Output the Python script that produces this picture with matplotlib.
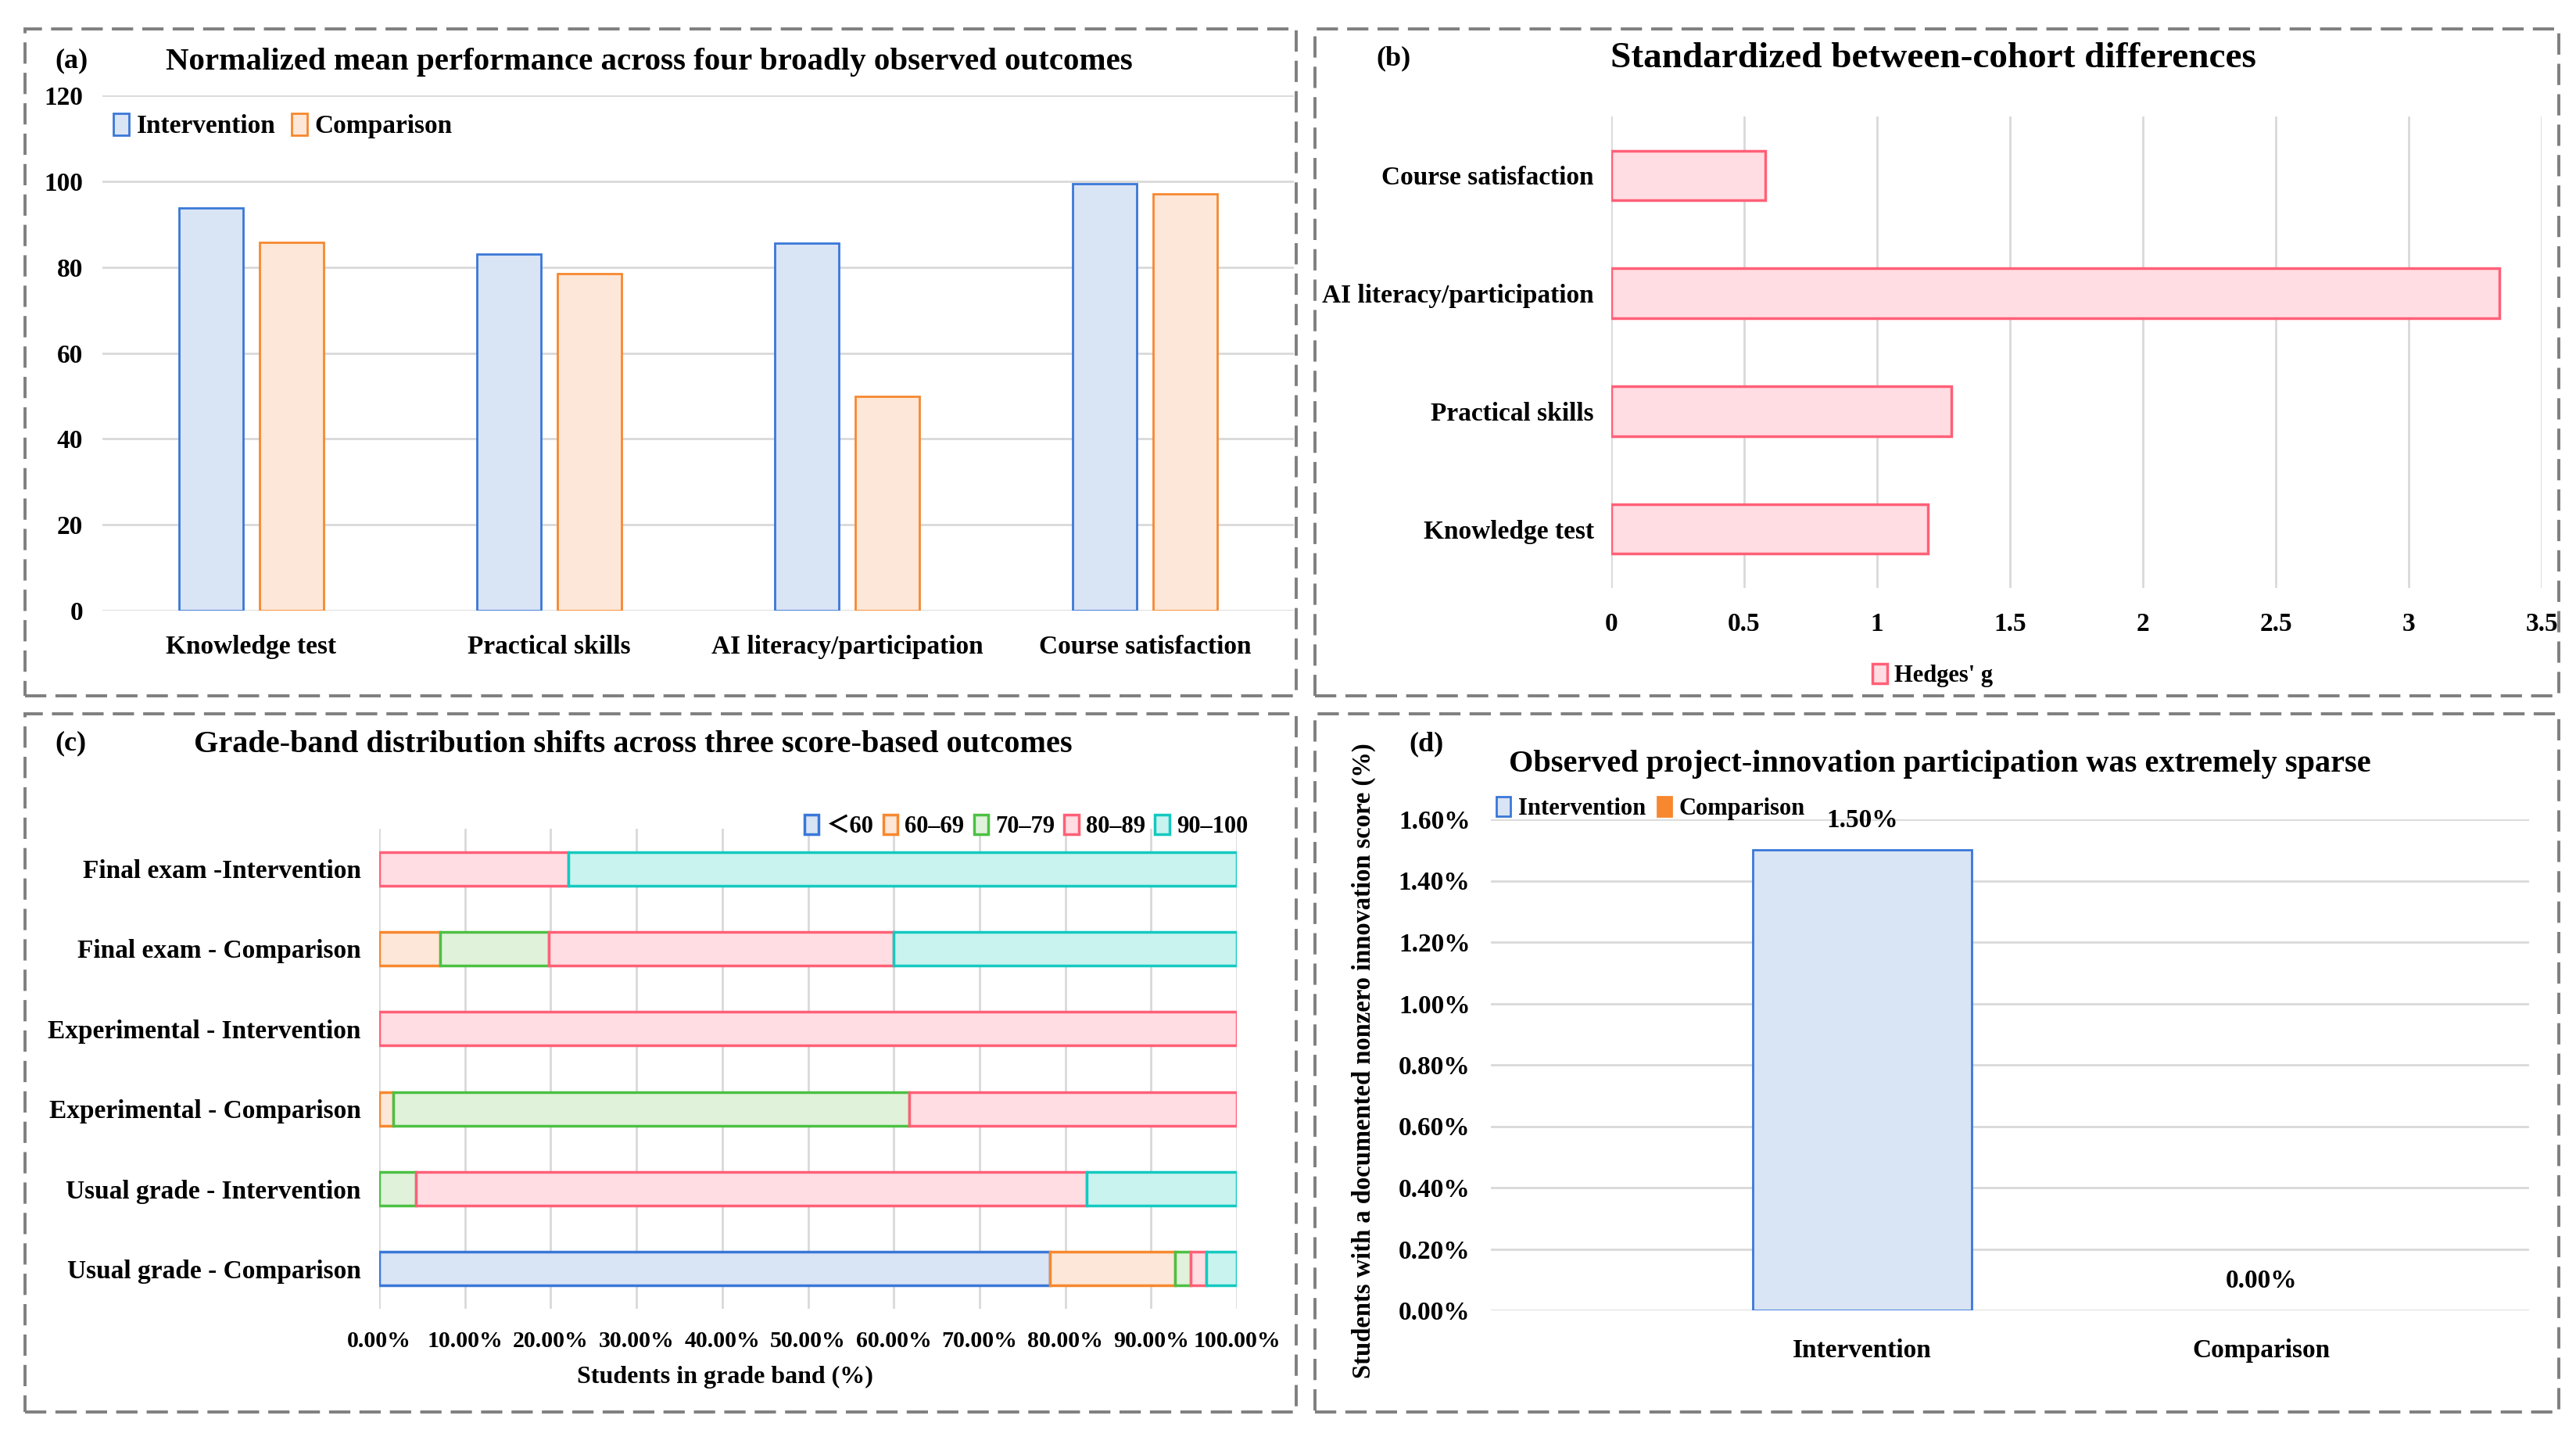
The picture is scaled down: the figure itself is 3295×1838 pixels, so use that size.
import matplotlib
matplotlib.use("Agg")
import matplotlib.pyplot as plt
from matplotlib.patches import Patch, Rectangle
from matplotlib.ticker import FuncFormatter, MultipleLocator
import numpy as np

# ---------------- data ----------------
a_categories = ["Knowledge test", "Practical skills", "AI literacy/participation", "Course satisfaction"]
a_intervention = [93.7, 83.0, 85.5, 99.4]
a_comparison = [85.7, 78.4, 49.9, 97.0]

b_categories = ["Knowledge test", "Practical skills", "AI literacy/participation", "Course satisfaction"]
b_hedges_g = [1.19, 1.28, 3.34, 0.58]

c_categories = ["Final exam -Intervention", "Final exam - Comparison", "Experimental - Intervention",
                "Experimental - Comparison", "Usual grade - Intervention", "Usual grade - Comparison"]
c_bands = ["＜60", "60–69", "70–79", "80–89", "90–100"]
c_lt60 = [0.0, 0.0, 0.0, 0.0, 0.0, 78.2]
c_60_69 = [0.0, 7.1, 0.0, 1.6, 0.0, 14.6]
c_70_79 = [0.0, 12.7, 0.0, 60.2, 4.3, 1.8]
c_80_89 = [22.1, 40.2, 100.0, 38.2, 78.2, 1.8]
c_90_100 = [77.9, 40.0, 0.0, 0.0, 17.5, 3.6]

d_groups = ["Intervention", "Comparison"]
d_values = [1.50, 0.00]

# ---------------- style ----------------
SERIF = ["Liberation Serif", "DejaVu Serif"]
plt.rcParams["font.family"] = SERIF
plt.rcParams["font.weight"] = "bold"

BLUE_E, BLUE_F = "#3A78D8", "#D9E4F5"
ORNG_E, ORNG_F = "#F7882F", "#FDE7D8"
GRN_E, GRN_F = "#4CC043", "#E0F2DA"
PINK_E, PINK_F = "#FF6077", "#FFDDE3"
TEAL_E, TEAL_F = "#14C9C0", "#C8F3EF"
GRID = "#D9D9D9"

W, H = 3295, 1838
fig = plt.figure(figsize=(W / 100, H / 100), dpi=100)


def fx(px):
    return px / W


def fy(py):
    return 1 - py / H


def rect(l, t, r, b):
    return [fx(l), fy(b), fx(r) - fx(l), fy(t) - fy(b)]


def panel_border(l, t, r, b):
    fig.patches.append(Rectangle((fx(l), fy(b)), fx(r) - fx(l), fy(t) - fy(b),
                                 transform=fig.transFigure, fill=False,
                                 edgecolor="#7F7F7F", linewidth=2.8,
                                 linestyle=(0, (7, 3))))


def clean(ax):
    for s in ax.spines.values():
        s.set_visible(False)
    ax.tick_params(length=0)


panel_border(32, 37, 1658, 890)
panel_border(1682, 37, 3273, 890)
panel_border(32, 913, 1658, 1806)
panel_border(1682, 913, 3273, 1806)

TICK = 24
PANEL = 26

# ---------------- (a) ----------------
axa = fig.add_axes(rect(131, 122, 1655, 781))
x = np.arange(len(a_categories))
bw = 0.213
off = 0.135
axa.bar(x - off, a_intervention, bw, facecolor=BLUE_F, edgecolor=BLUE_E, linewidth=2, zorder=3)
axa.bar(x + off, a_comparison, bw, facecolor=ORNG_F, edgecolor=ORNG_E, linewidth=2, zorder=3)
axa.set_xlim(-0.5, 3.5)
axa.set_ylim(0, 120)
axa.yaxis.set_major_locator(MultipleLocator(20))
axa.grid(axis="y", color=GRID, linewidth=2, zorder=0)
axa.set_axisbelow(True)
clean(axa)
axa.set_xticks(x)
axa.set_xticklabels(a_categories, fontsize=TICK, fontweight="bold")
axa.tick_params(axis="x", pad=22)
axa.tick_params(axis="y", pad=18, labelsize=TICK)
for t in axa.get_yticklabels():
    t.set_fontweight("bold")
fig.text(fx(70), fy(78), "(a)", fontsize=PANEL, fontweight="bold", ha="left", va="center")
fig.text(fx(830), fy(80), "Normalized mean performance across four broadly observed outcomes",
         fontsize=29.5, fontweight="bold", ha="center", va="center")
fig.legend(handles=[Patch(facecolor=BLUE_F, edgecolor=BLUE_E, linewidth=2, label="Intervention"),
                    Patch(facecolor=ORNG_F, edgecolor=ORNG_E, linewidth=2, label="Comparison")],
           loc="center left", bbox_to_anchor=(fx(145), fy(161)), bbox_transform=fig.transFigure,
           ncol=2, frameon=False, handlelength=0.6, handleheight=0.9,
           handletextpad=0.3, columnspacing=0.6, borderpad=0, borderaxespad=0,
           prop={"weight": "bold", "size": TICK})

# ---------------- (b) ----------------
axb = fig.add_axes(rect(2061, 149, 3251, 752))
y = np.arange(len(b_categories))
axb.barh(y, b_hedges_g, 0.42, facecolor=PINK_F, edgecolor=PINK_E, linewidth=2.5, zorder=3)
axb.set_xlim(0, 3.5)
axb.set_ylim(-0.5, 3.5)
axb.xaxis.set_major_locator(MultipleLocator(0.5))
axb.xaxis.set_major_formatter(FuncFormatter(lambda v, p: f"{v:g}"))
axb.grid(axis="x", color=GRID, linewidth=2, zorder=0)
axb.set_axisbelow(True)
clean(axb)
axb.set_yticks(y)
axb.set_yticklabels(b_categories, fontsize=TICK, fontweight="bold")
axb.tick_params(axis="y", pad=16)
axb.tick_params(axis="x", pad=22, labelsize=TICK)
for t in axb.get_xticklabels():
    t.set_fontweight("bold")
fig.text(fx(1760), fy(75), "(b)", fontsize=PANEL, fontweight="bold", ha="left", va="center")
fig.text(fx(2473), fy(75), "Standardized between-cohort differences",
         fontsize=34, fontweight="bold", ha="center", va="center")
fig.legend(handles=[Patch(facecolor=PINK_F, edgecolor=PINK_E, linewidth=2.5, label="Hedges' g")],
           loc="center", bbox_to_anchor=(fx(2472), fy(864)), bbox_transform=fig.transFigure,
           frameon=False, handlelength=0.6, handleheight=0.9, handletextpad=0.3,
           borderpad=0, borderaxespad=0, prop={"weight": "bold", "size": 22})

# ---------------- (c) ----------------
axc = fig.add_axes(rect(485, 1060, 1582, 1674))
yc = np.arange(len(c_categories))[::-1]
series = [c_lt60, c_60_69, c_70_79, c_80_89, c_90_100]
styles = [(BLUE_F, BLUE_E), (ORNG_F, ORNG_E), (GRN_F, GRN_E), (PINK_F, PINK_E), (TEAL_F, TEAL_E)]
left = np.zeros(len(c_categories))
for vals, (fc, ec), lab in zip(series, styles, c_bands):
    v = np.array(vals) / 100.0
    mask = v > 0
    axc.barh(yc[mask], v[mask], 0.42, left=left[mask], facecolor=fc, edgecolor=ec,
             linewidth=2.5, zorder=3)
    left = left + v
axc.set_xlim(0, 1.0)
axc.set_ylim(-0.5, 5.5)
axc.xaxis.set_major_locator(MultipleLocator(0.1))
axc.xaxis.set_major_formatter(FuncFormatter(lambda v, p: f"{v * 100:.2f}%"))
axc.grid(axis="x", color=GRID, linewidth=2, zorder=0)
axc.set_axisbelow(True)
clean(axc)
axc.set_yticks(yc)
axc.set_yticklabels(c_categories, fontsize=TICK, fontweight="bold")
axc.tick_params(axis="y", pad=17)
axc.tick_params(axis="x", pad=20, labelsize=21.5)
for t in axc.get_xticklabels():
    t.set_fontweight("bold")
axc.set_xlabel("Students in grade band (%)", fontsize=23, fontweight="bold", va="center")
axc.xaxis.set_label_coords((927 - 485) / 1097, (1674 - 1761) / 614)
fig.text(fx(70), fy(951), "(c)", fontsize=PANEL, fontweight="bold", ha="left", va="center")
fig.text(fx(810), fy(953), "Grade-band distribution shifts across three score-based outcomes",
         fontsize=29, fontweight="bold", ha="center", va="center")
fig.legend(handles=[Patch(facecolor=fc, edgecolor=ec, linewidth=2.5, label=lab)
                    for (fc, ec), lab in zip(styles, c_bands)],
           loc="center right", bbox_to_anchor=(fx(1596), fy(1057)), bbox_transform=fig.transFigure,
           ncol=5, frameon=False, handlelength=0.6, handleheight=0.9, handletextpad=0.3,
           columnspacing=0.4, borderpad=0, borderaxespad=0,
           prop={"family": ["Liberation Serif", "Noto Sans CJK SC"], "weight": "bold", "size": 22})

# ---------------- (d) ----------------
axd = fig.add_axes(rect(1907, 1048, 3235, 1676))
xd = np.arange(len(d_groups))
dv = np.array(d_values) / 100.0
axd.bar(xd[0], dv[0], 0.548, facecolor=BLUE_F, edgecolor=BLUE_E, linewidth=2, zorder=3)
axd.bar(xd[1], dv[1], 0.548, facecolor="#F7882F", edgecolor="#F7882F", linewidth=0, zorder=3)
axd.set_xlim(-0.93, 1.67)
axd.set_ylim(0, 0.016)
axd.yaxis.set_major_locator(MultipleLocator(0.002))
axd.yaxis.set_major_formatter(FuncFormatter(lambda v, p: f"{v * 100:.2f}%"))
axd.grid(axis="y", color=GRID, linewidth=2, zorder=0)
axd.set_axisbelow(True)
clean(axd)
axd.set_xticks(xd)
axd.set_xticklabels(d_groups, fontsize=TICK, fontweight="bold")
axd.tick_params(axis="x", pad=26)
axd.tick_params(axis="y", pad=19, labelsize=TICK)
for t in axd.get_yticklabels():
    t.set_fontweight("bold")
for xi, v, raw in zip(xd, dv, d_values):
    axd.annotate(f"{raw:.2f}%", (xi, v), xytext=(0, 27), textcoords="offset points",
                 ha="center", va="center", fontsize=TICK, fontweight="bold")
fig.text(fx(1744), fy(1357), "Students with a documented nonzero innovation score (%)",
         rotation=90, fontsize=23.5, fontweight="bold", ha="center", va="center")
fig.text(fx(1802), fy(952), "(d)", fontsize=PANEL, fontweight="bold", ha="left", va="center")
fig.text(fx(2481), fy(977), "Observed project-innovation participation was extremely sparse",
         fontsize=29, fontweight="bold", ha="center", va="center")
fig.legend(handles=[Patch(facecolor=BLUE_F, edgecolor=BLUE_E, linewidth=2, label="Intervention"),
                    Patch(facecolor="#F7882F", edgecolor="#F7882F", linewidth=2, label="Comparison")],
           loc="center left", bbox_to_anchor=(fx(1914), fy(1034)), bbox_transform=fig.transFigure,
           ncol=2, frameon=False, handlelength=0.6, handleheight=0.9, handletextpad=0.3,
           columnspacing=0.5, borderpad=0, borderaxespad=0,
           prop={"weight": "bold", "size": 22})

fig.savefig("out.png", dpi=100)
